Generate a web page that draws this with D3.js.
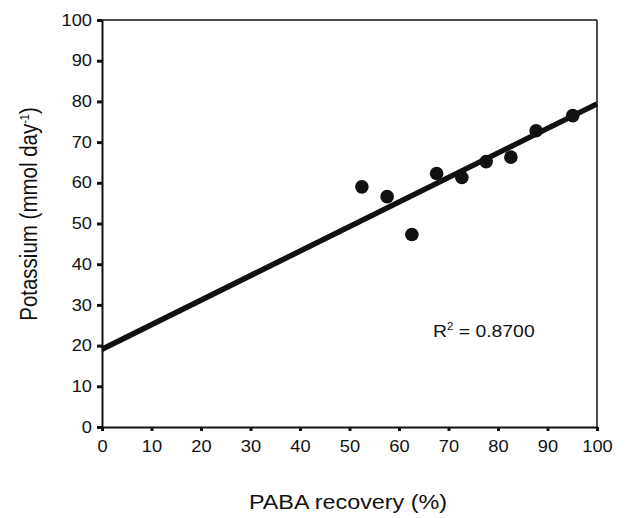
<!DOCTYPE html>
<html><head><meta charset="utf-8">
<script src="https://cdn.jsdelivr.net/npm/d3@7"></script>
<style>body{margin:0;background:#fff}svg{display:block}text{font-family:"Liberation Sans",Arial,sans-serif;fill:#111}</style>
</head><body>
<svg id="c" width="628" height="518"></svg>
<script>
const pabaRecovery = [52.5, 57.6, 62.6, 67.6, 72.7, 77.6, 82.6, 87.7, 95.1];
const potassium = [59.0, 56.6, 47.3, 62.3, 61.3, 65.2, 66.3, 72.8, 76.5];
const fitLine = [[0, 19.1], [100, 79.4]];
const xTicks = [0,10,20,30,40,50,60,70,80,90,100];
const yTicks = [0,10,20,30,40,50,60,70,80,90,100];
const rLabel = "0.8700";

const SX = 1.14;
const svg = d3.select("#c");
const x = d3.scaleLinear().domain([0,100]).range([102,597]);
const y = d3.scaleLinear().domain([0,100]).range([427,20]);

svg.append("line").attr("x1",x(0)).attr("x2",x(100)).attr("y1",y(100)).attr("y2",y(100)).attr("stroke","#111").attr("stroke-width",1.5);
svg.append("line").attr("x1",x(100)).attr("x2",x(100)).attr("y1",y(100)).attr("y2",y(0)).attr("stroke","#111").attr("stroke-width",1.5);

const xa = svg.append("g").attr("transform",`translate(0,${y(0)})`)
  .call(d3.axisBottom(x).tickValues(xTicks).tickSize(4).tickPadding(10).tickSizeOuter(0));
const ya = svg.append("g").attr("transform",`translate(${x(0)},0)`)
  .call(d3.axisLeft(y).tickValues(yTicks).tickSize(5).tickPadding(5).tickSizeOuter(0));
[xa,ya].forEach(a=>{
  a.select(".domain").attr("stroke","#111").attr("stroke-width",2);
  a.selectAll(".tick line").attr("stroke","#111").attr("stroke-width",3);
  a.selectAll(".tick text").attr("font-size",16).attr("fill","#111").style("font-family","'Liberation Sans',Arial,sans-serif");
});
// horizontal stretch of tick labels about their anchor
xa.selectAll(".tick text").attr("transform",`scale(${SX},1)`);
ya.selectAll(".tick text").each(function(){
  const ax = +d3.select(this).attr("x");
  d3.select(this).attr("transform",`translate(${ax},0) scale(${SX},1) translate(${-ax},0)`);
});

svg.append("line")
  .attr("x1",x(fitLine[0][0])).attr("y1",y(fitLine[0][1]))
  .attr("x2",x(fitLine[1][0])).attr("y2",y(fitLine[1][1]))
  .attr("stroke","#111").attr("stroke-width",5.5);

svg.selectAll("circle.pt").data(pabaRecovery).enter().append("circle")
  .attr("class","pt").attr("cx",d=>x(d)).attr("cy",(d,i)=>y(potassium[i])).attr("r",6.8).attr("fill","#111");

const rt = svg.append("text").attr("transform",`translate(433,337) scale(${SX},1)`).attr("font-size",17);
rt.append("tspan").text("R");
rt.append("tspan").attr("dy",-7).attr("font-size",10).text("2");
rt.append("tspan").attr("dy",7).text(" = " + rLabel);

svg.append("text").attr("transform",`translate(348,509) scale(${SX},1)`).attr("text-anchor","middle").attr("font-size",20.5).text("PABA recovery (%)");

const yt = svg.append("text").attr("transform",`translate(37,214) scale(${SX},1) rotate(-90)`).attr("text-anchor","middle").attr("font-size",20.5);
yt.append("tspan").text("Potassium (mmol day");
yt.append("tspan").attr("dy",-7).attr("font-size",11).text("-1");
yt.append("tspan").attr("dy",7).text(")");
</script>
</body></html>
